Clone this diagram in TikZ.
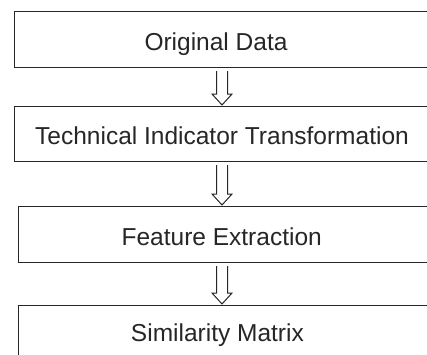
\documentclass[tikz,border=0pt]{standalone}
\usepackage{fontspec}
\setmainfont{Liberation Sans}
\usetikzlibrary{calc}

\newcommand{\hollowarrow}[2]{%
  \draw[flowarrow] ($(#1)+(-5.5,0)$) -- ($(#2)+(-5.5,-11)$) -- ($(#2)+(-10,-11)$)
      -- (#2) -- ($(#2)+(10,-11)$) -- ($(#2)+(5.5,-11)$) -- ($(#1)+(5.5,0)$);}

\begin{document}
\begin{tikzpicture}[x=1pt, y=-1pt,
            stagebox/.style = {shape=rectangle, draw=black!85, line width=1.2pt,
                               minimum width=430pt, minimum height=56pt,
                               inner sep=0pt, anchor=north west},
            stagetext/.style = {anchor=base, text=black!85, inner sep=0pt,
                                font=\fontsize{24.5}{29}\selectfont},
            flowarrow/.style = {draw=black!85, line width=1pt, miter limit=20}]
    \useasboundingbox (0,0) rectangle (427,354);
    \clip (0,0) rectangle (427,354);
    % boxes
    \node[stagebox] (data) at (14,11) {};
    \node[stagebox, minimum height=55pt] (tech) at (14,106) {};
    \node[stagebox] (feat) at (18,206) {};
    \node[stagebox] (simi) at (18,305) {};
    % labels
    \node[stagetext] (datatext) at (216,50.5) {Original Data};
    \node[stagetext] (techtext) at (222,144.3) {Technical Indicator Transformation};
    \node[stagetext] (feattext) at (221.7,245) {Feature Extraction};
    \node[stagetext] (simitext) at (217.4,341.7) {Similarity Matrix};
    % arrows
    \coordinate (col) at (222,0);
    \path ($(data.south -| col)+(0,3)$) coordinate (s1)
          ($(tech.north -| col)+(0,-1)$) coordinate (e1)
          ($(tech.south -| col)+(0,3)$) coordinate (s2)
          ($(feat.north -| col)+(0,-1)$) coordinate (e2)
          ($(feat.south -| col)+(0,3)$) coordinate (s3)
          ($(simi.north -| col)+(0,-1)$) coordinate (e3);
    \hollowarrow{s1}{e1}
    \hollowarrow{s2}{e2}
    \hollowarrow{s3}{e3}
\end{tikzpicture}
\end{document}
